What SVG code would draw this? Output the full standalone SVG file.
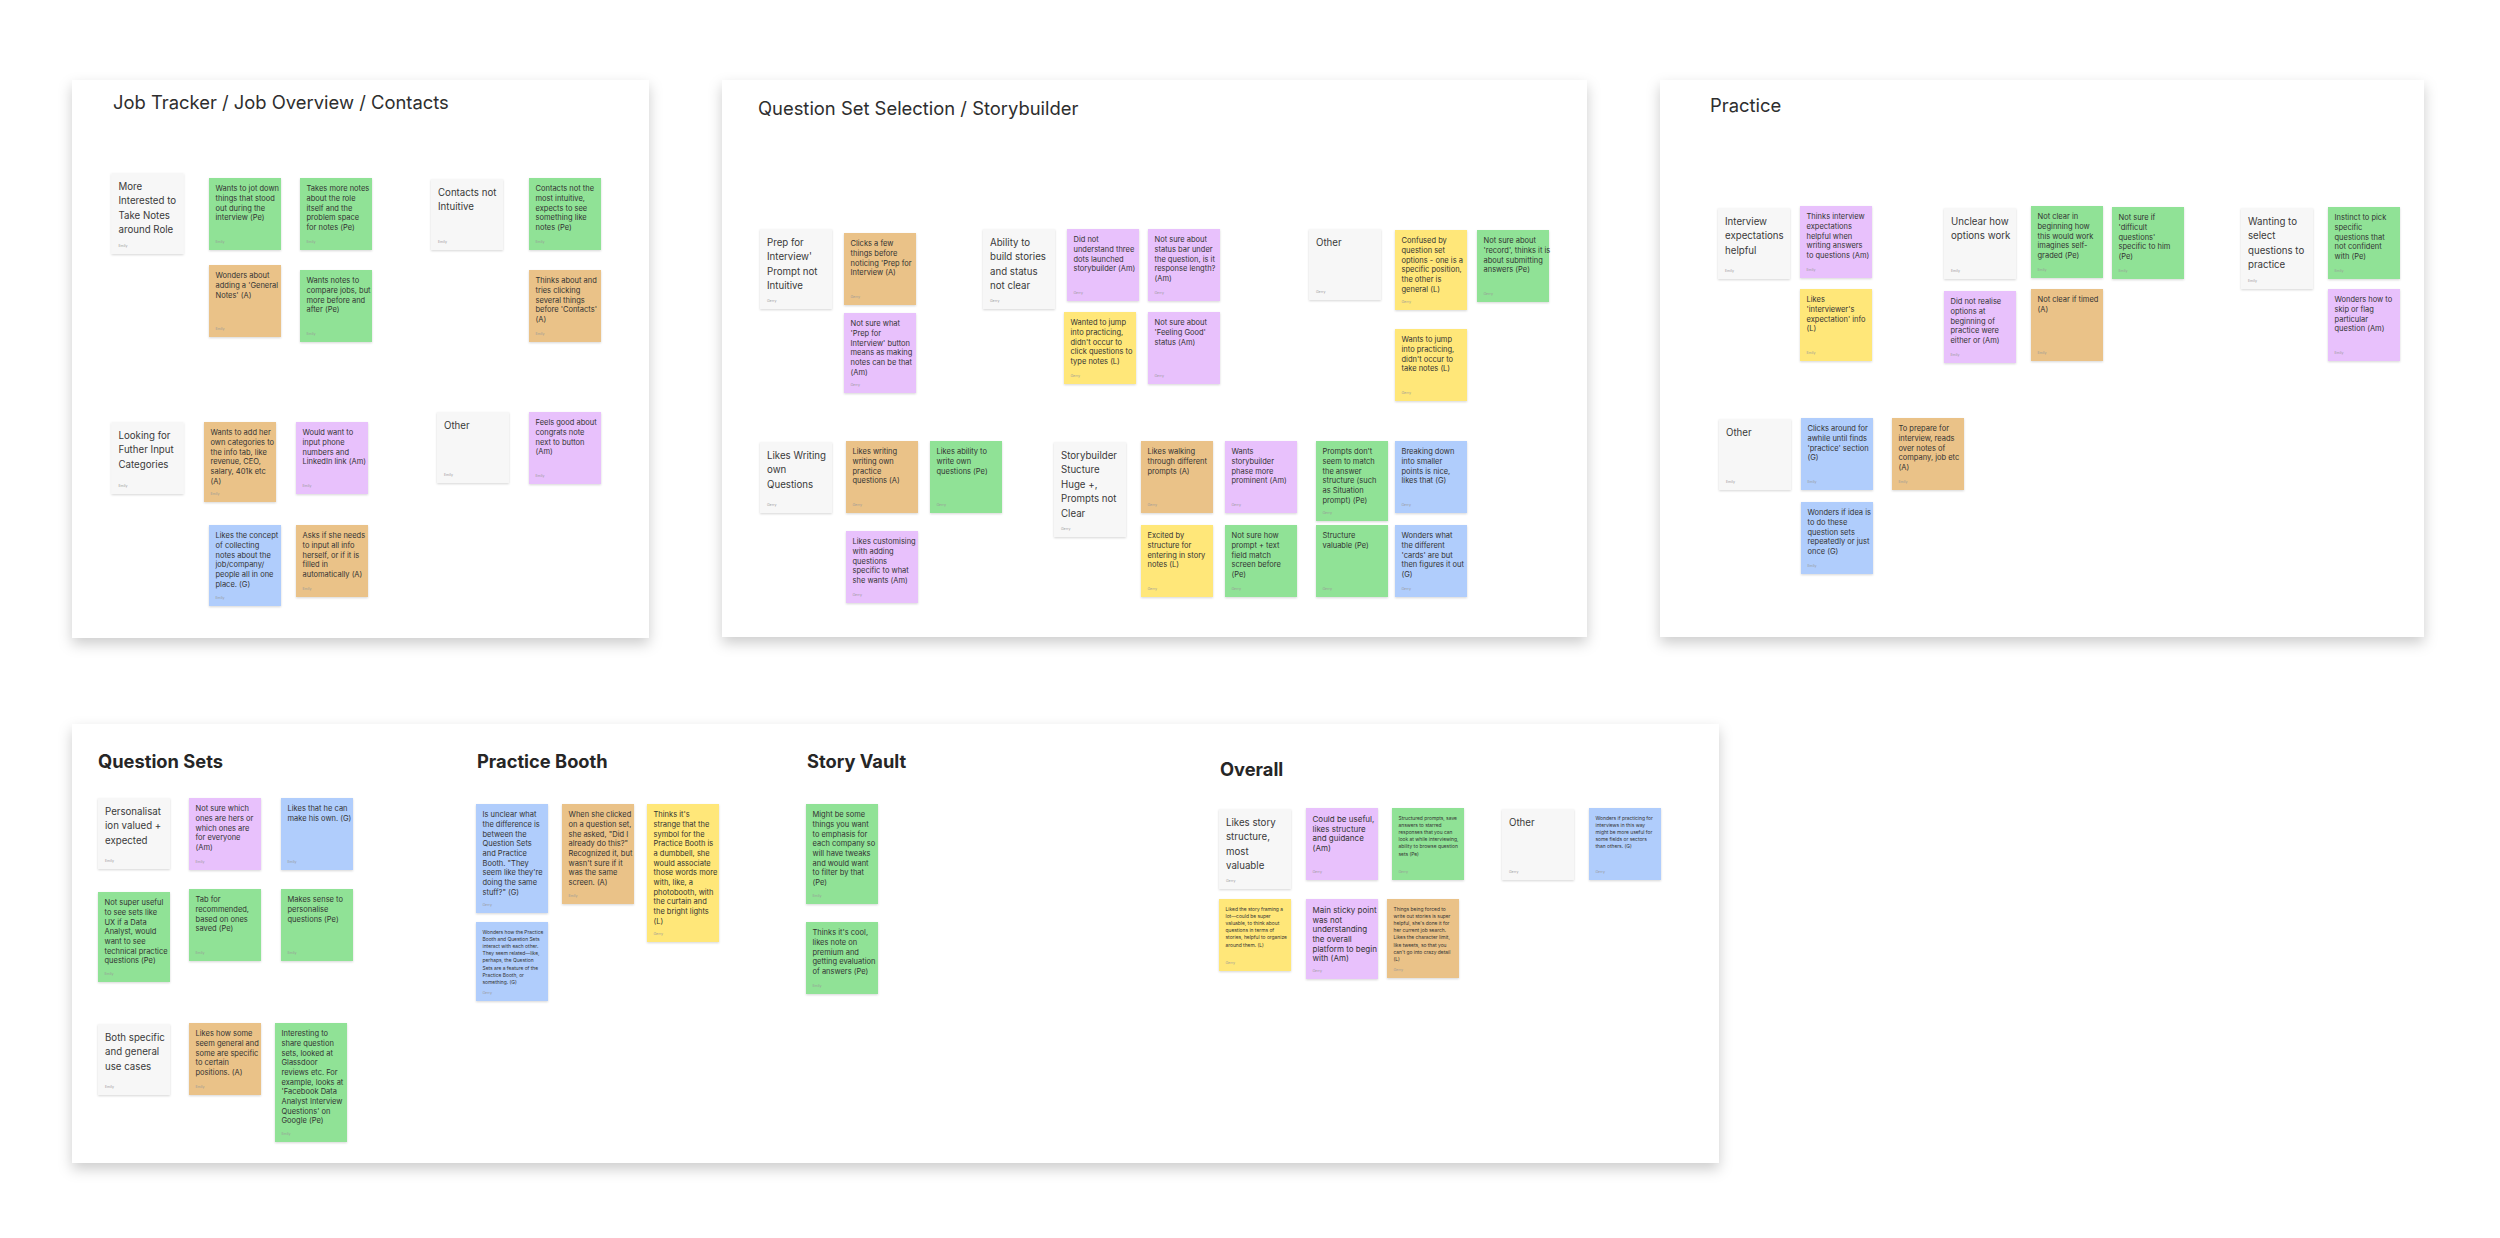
<svg xmlns="http://www.w3.org/2000/svg" width="2500" height="1238" viewBox="0 0 2500 1238">
<defs>
<filter id="ps" x="-10%" y="-10%" width="120%" height="125%"><feDropShadow dx="0" dy="6" stdDeviation="7" flood-color="#000" flood-opacity="0.2"/></filter>
<filter id="ns" x="-10%" y="-10%" width="120%" height="130%"><feDropShadow dx="0" dy="1" stdDeviation="0.8" flood-color="#000" flood-opacity="0.16"/></filter>
</defs>
<style>
text{font-family:Inter,"Noto Sans","Liberation Sans",sans-serif;fill:#333}
.tt{font-size:18.4px;fill:#2e2e2e}
.tb{font-size:18.3px;font-weight:700;fill:#262626}
.h{font-size:9.7px;fill:#3a3a3a}
.n{font-size:7.5px}
.m{font-size:8px}
.s{font-size:4.9px}
.lb{font-size:3.5px;fill:#999}
.pn{fill:#fff;filter:url(#ps)}
.k{filter:url(#ns)}
.hd{fill:#f7f7f7}
.gr{fill:#90e296}
.or{fill:#eac288}
.pu{fill:#e8c1fc}
.bl{fill:#b0cdfc}
.ye{fill:#ffe779}
</style>
<rect width="2500" height="1238" fill="#fff"/>

<g id="panel-job-tracker">
<rect class="pn" x="72" y="80" width="577" height="558"/>
<text class="tt" x="113" y="109">Job Tracker / Job Overview / Contacts</text>
</g>
<g id="jt-h1"><rect class="k hd" x="111.5" y="173" width="72" height="81"/><text class="h" x="118.5" y="190"><tspan x="118.5" dy="0">More</tspan><tspan x="118.5" dy="14.4">Interested to</tspan><tspan x="118.5" dy="14.4">Take Notes</tspan><tspan x="118.5" dy="14.4">around Role</tspan></text><text class="lb" x="118.5" y="247">Emily</text></g>
<g id="jt-n1"><rect class="k gr" x="209" y="178" width="72" height="72"/><text class="n" x="215.5" y="191.3"><tspan x="215.5" dy="0">Wants to jot down</tspan><tspan x="215.5" dy="9.67">things that stood</tspan><tspan x="215.5" dy="9.67">out during the</tspan><tspan x="215.5" dy="9.67">interview (Pe)</tspan></text><text class="lb" x="215.5" y="243.2">Emily</text></g>
<g id="jt-n2"><rect class="k gr" x="300" y="178" width="72" height="72"/><text class="n" x="306.5" y="191.3"><tspan x="306.5" dy="0">Takes more notes</tspan><tspan x="306.5" dy="9.67">about the role</tspan><tspan x="306.5" dy="9.67">itself and the</tspan><tspan x="306.5" dy="9.67">problem space</tspan><tspan x="306.5" dy="9.67">for notes (Pe)</tspan></text><text class="lb" x="306.5" y="243.2">Emily</text></g>
<g id="jt-n3"><rect class="k or" x="209" y="265" width="72" height="72"/><text class="n" x="215.5" y="278.3"><tspan x="215.5" dy="0">Wonders about</tspan><tspan x="215.5" dy="9.67">adding a 'General</tspan><tspan x="215.5" dy="9.67">Notes' (A)</tspan></text><text class="lb" x="215.5" y="330.2">Emily</text></g>
<g id="jt-n4"><rect class="k gr" x="300" y="270" width="72" height="72"/><text class="n" x="306.5" y="283.3"><tspan x="306.5" dy="0">Wants notes to</tspan><tspan x="306.5" dy="9.67">compare jobs, but</tspan><tspan x="306.5" dy="9.67">more before and</tspan><tspan x="306.5" dy="9.67">after (Pe)</tspan></text><text class="lb" x="306.5" y="335.2">Emily</text></g>
<g id="jt-h2"><rect class="k hd" x="431" y="179" width="72" height="71"/><text class="h" x="438" y="196"><tspan x="438" dy="0">Contacts not</tspan><tspan x="438" dy="14.4">Intuitive</tspan></text><text class="lb" x="438" y="243">Emily</text></g>
<g id="jt-n5"><rect class="k gr" x="529" y="178" width="72" height="72"/><text class="n" x="535.5" y="191.3"><tspan x="535.5" dy="0">Contacts not the</tspan><tspan x="535.5" dy="9.67">most intuitive,</tspan><tspan x="535.5" dy="9.67">expects to see</tspan><tspan x="535.5" dy="9.67">something like</tspan><tspan x="535.5" dy="9.67">notes (Pe)</tspan></text><text class="lb" x="535.5" y="243.2">Emily</text></g>
<g id="jt-n6"><rect class="k or" x="529" y="270" width="72" height="72"/><text class="n" x="535.5" y="283.3"><tspan x="535.5" dy="0">Thinks about and</tspan><tspan x="535.5" dy="9.67">tries clicking</tspan><tspan x="535.5" dy="9.67">several things</tspan><tspan x="535.5" dy="9.67">before 'Contacts'</tspan><tspan x="535.5" dy="9.67">(A)</tspan></text><text class="lb" x="535.5" y="335.2">Emily</text></g>
<g id="jt-h3"><rect class="k hd" x="111.5" y="422" width="72" height="72"/><text class="h" x="118.5" y="439"><tspan x="118.5" dy="0">Looking for</tspan><tspan x="118.5" dy="14.4">Futher Input</tspan><tspan x="118.5" dy="14.4">Categories</tspan></text><text class="lb" x="118.5" y="487">Emily</text></g>
<g id="jt-n7"><rect class="k or" x="204" y="422" width="72" height="80"/><text class="n" x="210.5" y="435.3"><tspan x="210.5" dy="0">Wants to add her</tspan><tspan x="210.5" dy="9.67">own categories to</tspan><tspan x="210.5" dy="9.67">the info tab, like</tspan><tspan x="210.5" dy="9.67">revenue, CEO,</tspan><tspan x="210.5" dy="9.67">salary, 401k etc</tspan><tspan x="210.5" dy="9.67">(A)</tspan></text><text class="lb" x="210.5" y="495.2">Emily</text></g>
<g id="jt-n8"><rect class="k pu" x="296" y="422" width="72" height="72"/><text class="n" x="302.5" y="435.3"><tspan x="302.5" dy="0">Would want to</tspan><tspan x="302.5" dy="9.67">input phone</tspan><tspan x="302.5" dy="9.67">numbers and</tspan><tspan x="302.5" dy="9.67">LinkedIn link (Am)</tspan></text><text class="lb" x="302.5" y="487.2">Emily</text></g>
<g id="jt-n9"><rect class="k bl" x="209" y="525" width="72" height="81"/><text class="n" x="215.5" y="538.3"><tspan x="215.5" dy="0">Likes the concept</tspan><tspan x="215.5" dy="9.67">of collecting</tspan><tspan x="215.5" dy="9.67">notes about the</tspan><tspan x="215.5" dy="9.67">job/company/</tspan><tspan x="215.5" dy="9.67">people all in one</tspan><tspan x="215.5" dy="9.67">place. (G)</tspan></text><text class="lb" x="215.5" y="599.2">Emily</text></g>
<g id="jt-n10"><rect class="k or" x="296" y="525" width="72" height="72"/><text class="n" x="302.5" y="538.3"><tspan x="302.5" dy="0">Asks if she needs</tspan><tspan x="302.5" dy="9.67">to input all info</tspan><tspan x="302.5" dy="9.67">herself, or if it is</tspan><tspan x="302.5" dy="9.67">filled in</tspan><tspan x="302.5" dy="9.67">automatically (A)</tspan></text><text class="lb" x="302.5" y="590.2">Emily</text></g>
<g id="jt-h4"><rect class="k hd" x="437" y="412" width="72" height="71"/><text class="h" x="444" y="429">Other</text><text class="lb" x="444" y="476">Emily</text></g>
<g id="jt-n11"><rect class="k pu" x="529" y="412" width="72" height="72"/><text class="n" x="535.5" y="425.3"><tspan x="535.5" dy="0">Feels good about</tspan><tspan x="535.5" dy="9.67">congrats note</tspan><tspan x="535.5" dy="9.67">next to button</tspan><tspan x="535.5" dy="9.67">(Am)</tspan></text><text class="lb" x="535.5" y="477.2">Emily</text></g>

<g id="panel-question-set-selection">
<rect class="pn" x="722" y="80" width="865" height="557"/>
<text class="tt" x="758" y="115">Question Set Selection / Storybuilder</text>
</g>
<g id="qs-h1"><rect class="k hd" x="760" y="229" width="72" height="80"/><text class="h" x="767" y="246"><tspan x="767" dy="0">Prep for</tspan><tspan x="767" dy="14.4">Interview'</tspan><tspan x="767" dy="14.4">Prompt not</tspan><tspan x="767" dy="14.4">Intuitive</tspan></text><text class="lb" x="767" y="302">Gerry</text></g>
<g id="qs-n1"><rect class="k or" x="844" y="233" width="72" height="72"/><text class="n" x="850.5" y="246.3"><tspan x="850.5" dy="0">Clicks a few</tspan><tspan x="850.5" dy="9.67">things before</tspan><tspan x="850.5" dy="9.67">noticing 'Prep for</tspan><tspan x="850.5" dy="9.67">Interview (A)</tspan></text><text class="lb" x="850.5" y="298.2">Gerry</text></g>
<g id="qs-n2"><rect class="k pu" x="844" y="313" width="72" height="80"/><text class="n" x="850.5" y="326.3"><tspan x="850.5" dy="0">Not sure what</tspan><tspan x="850.5" dy="9.67">'Prep for</tspan><tspan x="850.5" dy="9.67">Interview' button</tspan><tspan x="850.5" dy="9.67">means as making</tspan><tspan x="850.5" dy="9.67">notes can be that</tspan><tspan x="850.5" dy="9.67">(Am)</tspan></text><text class="lb" x="850.5" y="386.2">Gerry</text></g>
<g id="qs-h2"><rect class="k hd" x="983" y="229" width="72" height="80"/><text class="h" x="990" y="246"><tspan x="990" dy="0">Ability to</tspan><tspan x="990" dy="14.4">build stories</tspan><tspan x="990" dy="14.4">and status</tspan><tspan x="990" dy="14.4">not clear</tspan></text><text class="lb" x="990" y="302">Gerry</text></g>
<g id="qs-n3"><rect class="k pu" x="1067" y="229" width="72" height="72"/><text class="n" x="1073.5" y="242.3"><tspan x="1073.5" dy="0">Did not</tspan><tspan x="1073.5" dy="9.67">understand three</tspan><tspan x="1073.5" dy="9.67">dots launched</tspan><tspan x="1073.5" dy="9.67">storybuilder (Am)</tspan></text><text class="lb" x="1073.5" y="294.2">Gerry</text></g>
<g id="qs-n4"><rect class="k pu" x="1148" y="229" width="72" height="72"/><text class="n" x="1154.5" y="242.3"><tspan x="1154.5" dy="0">Not sure about</tspan><tspan x="1154.5" dy="9.67">status bar under</tspan><tspan x="1154.5" dy="9.67">the question, is it</tspan><tspan x="1154.5" dy="9.67">response length?</tspan><tspan x="1154.5" dy="9.67">(Am)</tspan></text><text class="lb" x="1154.5" y="294.2">Gerry</text></g>
<g id="qs-n5"><rect class="k ye" x="1064" y="312" width="72" height="72"/><text class="n" x="1070.5" y="325.3"><tspan x="1070.5" dy="0">Wanted to jump</tspan><tspan x="1070.5" dy="9.67">into practicing,</tspan><tspan x="1070.5" dy="9.67">didn't occur to</tspan><tspan x="1070.5" dy="9.67">click questions to</tspan><tspan x="1070.5" dy="9.67">type notes (L)</tspan></text><text class="lb" x="1070.5" y="377.2">Gerry</text></g>
<g id="qs-n6"><rect class="k pu" x="1148" y="312" width="72" height="72"/><text class="n" x="1154.5" y="325.3"><tspan x="1154.5" dy="0">Not sure about</tspan><tspan x="1154.5" dy="9.67">'Feeling Good'</tspan><tspan x="1154.5" dy="9.67">status (Am)</tspan></text><text class="lb" x="1154.5" y="377.2">Gerry</text></g>
<g id="qs-h3"><rect class="k hd" x="1309" y="229" width="72" height="71"/><text class="h" x="1316" y="246">Other</text><text class="lb" x="1316" y="293">Gerry</text></g>
<g id="qs-n7"><rect class="k ye" x="1395" y="230" width="72" height="80"/><text class="n" x="1401.5" y="243.3"><tspan x="1401.5" dy="0">Confused by</tspan><tspan x="1401.5" dy="9.67">question set</tspan><tspan x="1401.5" dy="9.67">options - one is a</tspan><tspan x="1401.5" dy="9.67">specific position,</tspan><tspan x="1401.5" dy="9.67">the other is</tspan><tspan x="1401.5" dy="9.67">general (L)</tspan></text><text class="lb" x="1401.5" y="303.2">Gerry</text></g>
<g id="qs-n8"><rect class="k gr" x="1477" y="230" width="72" height="72"/><text class="n" x="1483.5" y="243.3"><tspan x="1483.5" dy="0">Not sure about</tspan><tspan x="1483.5" dy="9.67">'record', thinks it is</tspan><tspan x="1483.5" dy="9.67">about submitting</tspan><tspan x="1483.5" dy="9.67">answers (Pe)</tspan></text><text class="lb" x="1483.5" y="295.2">Gerry</text></g>
<g id="qs-n9"><rect class="k ye" x="1395" y="329" width="72" height="72"/><text class="n" x="1401.5" y="342.3"><tspan x="1401.5" dy="0">Wants to jump</tspan><tspan x="1401.5" dy="9.67">into practicing,</tspan><tspan x="1401.5" dy="9.67">didn't occur to</tspan><tspan x="1401.5" dy="9.67">take notes (L)</tspan></text><text class="lb" x="1401.5" y="394.2">Gerry</text></g>
<g id="qs-h4"><rect class="k hd" x="760" y="442" width="72" height="71"/><text class="h" x="767" y="459"><tspan x="767" dy="0">Likes Writing</tspan><tspan x="767" dy="14.4">own</tspan><tspan x="767" dy="14.4">Questions</tspan></text><text class="lb" x="767" y="506">Gerry</text></g>
<g id="qs-n10"><rect class="k or" x="846" y="441" width="72" height="72"/><text class="n" x="852.5" y="454.3"><tspan x="852.5" dy="0">Likes writing</tspan><tspan x="852.5" dy="9.67">writing own</tspan><tspan x="852.5" dy="9.67">practice</tspan><tspan x="852.5" dy="9.67">questions (A)</tspan></text><text class="lb" x="852.5" y="506.2">Gerry</text></g>
<g id="qs-n11"><rect class="k gr" x="930" y="441" width="72" height="72"/><text class="n" x="936.5" y="454.3"><tspan x="936.5" dy="0">Likes ability to</tspan><tspan x="936.5" dy="9.67">write own</tspan><tspan x="936.5" dy="9.67">questions (Pe)</tspan></text><text class="lb" x="936.5" y="506.2">Gerry</text></g>
<g id="qs-n12"><rect class="k pu" x="846" y="531" width="72" height="72"/><text class="n" x="852.5" y="544.3"><tspan x="852.5" dy="0">Likes customising</tspan><tspan x="852.5" dy="9.67">with adding</tspan><tspan x="852.5" dy="9.67">questions</tspan><tspan x="852.5" dy="9.67">specific to what</tspan><tspan x="852.5" dy="9.67">she wants (Am)</tspan></text><text class="lb" x="852.5" y="596.2">Gerry</text></g>
<g id="qs-h5"><rect class="k hd" x="1054" y="442" width="72" height="95"/><text class="h" x="1061" y="459"><tspan x="1061" dy="0">Storybuilder</tspan><tspan x="1061" dy="14.4">Stucture</tspan><tspan x="1061" dy="14.4">Huge +,</tspan><tspan x="1061" dy="14.4">Prompts not</tspan><tspan x="1061" dy="14.4">Clear</tspan></text><text class="lb" x="1061" y="530">Gerry</text></g>
<g id="qs-n13"><rect class="k or" x="1141" y="441" width="72" height="72"/><text class="n" x="1147.5" y="454.3"><tspan x="1147.5" dy="0">Likes walking</tspan><tspan x="1147.5" dy="9.67">through different</tspan><tspan x="1147.5" dy="9.67">prompts (A)</tspan></text><text class="lb" x="1147.5" y="506.2">Gerry</text></g>
<g id="qs-n14"><rect class="k ye" x="1141" y="525" width="72" height="72"/><text class="n" x="1147.5" y="538.3"><tspan x="1147.5" dy="0">Excited by</tspan><tspan x="1147.5" dy="9.67">structure for</tspan><tspan x="1147.5" dy="9.67">entering in story</tspan><tspan x="1147.5" dy="9.67">notes (L)</tspan></text><text class="lb" x="1147.5" y="590.2">Gerry</text></g>
<g id="qs-n15"><rect class="k pu" x="1225" y="441" width="72" height="72"/><text class="n" x="1231.5" y="454.3"><tspan x="1231.5" dy="0">Wants</tspan><tspan x="1231.5" dy="9.67">storybuilder</tspan><tspan x="1231.5" dy="9.67">phase more</tspan><tspan x="1231.5" dy="9.67">prominent (Am)</tspan></text><text class="lb" x="1231.5" y="506.2">Gerry</text></g>
<g id="qs-n16"><rect class="k gr" x="1225" y="525" width="72" height="72"/><text class="n" x="1231.5" y="538.3"><tspan x="1231.5" dy="0">Not sure how</tspan><tspan x="1231.5" dy="9.67">prompt + text</tspan><tspan x="1231.5" dy="9.67">field match</tspan><tspan x="1231.5" dy="9.67">screen before</tspan><tspan x="1231.5" dy="9.67">(Pe)</tspan></text><text class="lb" x="1231.5" y="590.2">Gerry</text></g>
<g id="qs-n17"><rect class="k gr" x="1316" y="441" width="72" height="80"/><text class="n" x="1322.5" y="454.3"><tspan x="1322.5" dy="0">Prompts don't</tspan><tspan x="1322.5" dy="9.67">seem to match</tspan><tspan x="1322.5" dy="9.67">the answer</tspan><tspan x="1322.5" dy="9.67">structure (such</tspan><tspan x="1322.5" dy="9.67">as Situation</tspan><tspan x="1322.5" dy="9.67">prompt) (Pe)</tspan></text><text class="lb" x="1322.5" y="514.2">Gerry</text></g>
<g id="qs-n18"><rect class="k gr" x="1316" y="525" width="72" height="72"/><text class="n" x="1322.5" y="538.3"><tspan x="1322.5" dy="0">Structure</tspan><tspan x="1322.5" dy="9.67">valuable (Pe)</tspan></text><text class="lb" x="1322.5" y="590.2">Gerry</text></g>
<g id="qs-n19"><rect class="k bl" x="1395" y="441" width="72" height="72"/><text class="n" x="1401.5" y="454.3"><tspan x="1401.5" dy="0">Breaking down</tspan><tspan x="1401.5" dy="9.67">into smaller</tspan><tspan x="1401.5" dy="9.67">points is nice,</tspan><tspan x="1401.5" dy="9.67">likes that (G)</tspan></text><text class="lb" x="1401.5" y="506.2">Gerry</text></g>
<g id="qs-n20"><rect class="k bl" x="1395" y="525" width="72" height="72"/><text class="n" x="1401.5" y="538.3"><tspan x="1401.5" dy="0">Wonders what</tspan><tspan x="1401.5" dy="9.67">the different</tspan><tspan x="1401.5" dy="9.67">'cards' are but</tspan><tspan x="1401.5" dy="9.67">then figures it out</tspan><tspan x="1401.5" dy="9.67">(G)</tspan></text><text class="lb" x="1401.5" y="590.2">Gerry</text></g>

<g id="panel-practice">
<rect class="pn" x="1660" y="80" width="764" height="557"/>
<text class="tt" x="1710" y="111.7">Practice</text>
</g>
<g id="pr-h1"><rect class="k hd" x="1718" y="208" width="72" height="71"/><text class="h" x="1725" y="225"><tspan x="1725" dy="0">Interview</tspan><tspan x="1725" dy="14.4">expectations</tspan><tspan x="1725" dy="14.4">helpful</tspan></text><text class="lb" x="1725" y="272">Emily</text></g>
<g id="pr-n1"><rect class="k pu" x="1800" y="206" width="72" height="72"/><text class="n" x="1806.5" y="219.3"><tspan x="1806.5" dy="0">Thinks interview</tspan><tspan x="1806.5" dy="9.67">expectations</tspan><tspan x="1806.5" dy="9.67">helpful when</tspan><tspan x="1806.5" dy="9.67">writing answers</tspan><tspan x="1806.5" dy="9.67">to questions (Am)</tspan></text><text class="lb" x="1806.5" y="271.2">Emily</text></g>
<g id="pr-n2"><rect class="k ye" x="1800" y="289" width="72" height="72"/><text class="n" x="1806.5" y="302.3"><tspan x="1806.5" dy="0">Likes</tspan><tspan x="1806.5" dy="9.67">'interviewer's</tspan><tspan x="1806.5" dy="9.67">expectation' info</tspan><tspan x="1806.5" dy="9.67">(L)</tspan></text><text class="lb" x="1806.5" y="354.2">Emily</text></g>
<g id="pr-h2"><rect class="k hd" x="1944" y="208" width="72" height="71"/><text class="h" x="1951" y="225"><tspan x="1951" dy="0">Unclear how</tspan><tspan x="1951" dy="14.4">options work</tspan></text><text class="lb" x="1951" y="272">Emily</text></g>
<g id="pr-n3"><rect class="k gr" x="2031" y="206" width="72" height="72"/><text class="n" x="2037.5" y="219.3"><tspan x="2037.5" dy="0">Not clear in</tspan><tspan x="2037.5" dy="9.67">beginning how</tspan><tspan x="2037.5" dy="9.67">this would work</tspan><tspan x="2037.5" dy="9.67">imagines self-</tspan><tspan x="2037.5" dy="9.67">graded (Pe)</tspan></text><text class="lb" x="2037.5" y="271.2">Emily</text></g>
<g id="pr-n4"><rect class="k gr" x="2112" y="207" width="72" height="72"/><text class="n" x="2118.5" y="220.3"><tspan x="2118.5" dy="0">Not sure if</tspan><tspan x="2118.5" dy="9.67">'difficult</tspan><tspan x="2118.5" dy="9.67">questions'</tspan><tspan x="2118.5" dy="9.67">specific to him</tspan><tspan x="2118.5" dy="9.67">(Pe)</tspan></text><text class="lb" x="2118.5" y="272.2">Emily</text></g>
<g id="pr-n5"><rect class="k pu" x="1944" y="291" width="72" height="72"/><text class="n" x="1950.5" y="304.3"><tspan x="1950.5" dy="0">Did not realise</tspan><tspan x="1950.5" dy="9.67">options at</tspan><tspan x="1950.5" dy="9.67">beginning of</tspan><tspan x="1950.5" dy="9.67">practice were</tspan><tspan x="1950.5" dy="9.67">either or (Am)</tspan></text><text class="lb" x="1950.5" y="356.2">Emily</text></g>
<g id="pr-n6"><rect class="k or" x="2031" y="289" width="72" height="72"/><text class="n" x="2037.5" y="302.3"><tspan x="2037.5" dy="0">Not clear if timed</tspan><tspan x="2037.5" dy="9.67">(A)</tspan></text><text class="lb" x="2037.5" y="354.2">Emily</text></g>
<g id="pr-h3"><rect class="k hd" x="2241" y="208" width="72" height="81"/><text class="h" x="2248" y="225"><tspan x="2248" dy="0">Wanting to</tspan><tspan x="2248" dy="14.4">select</tspan><tspan x="2248" dy="14.4">questions to</tspan><tspan x="2248" dy="14.4">practice</tspan></text><text class="lb" x="2248" y="282">Emily</text></g>
<g id="pr-n7"><rect class="k gr" x="2328" y="207" width="72" height="72"/><text class="n" x="2334.5" y="220.3"><tspan x="2334.5" dy="0">Instinct to pick</tspan><tspan x="2334.5" dy="9.67">specific</tspan><tspan x="2334.5" dy="9.67">questions that</tspan><tspan x="2334.5" dy="9.67">not confident</tspan><tspan x="2334.5" dy="9.67">with (Pe)</tspan></text><text class="lb" x="2334.5" y="272.2">Emily</text></g>
<g id="pr-n8"><rect class="k pu" x="2328" y="289" width="72" height="72"/><text class="n" x="2334.5" y="302.3"><tspan x="2334.5" dy="0">Wonders how to</tspan><tspan x="2334.5" dy="9.67">skip or flag</tspan><tspan x="2334.5" dy="9.67">particular</tspan><tspan x="2334.5" dy="9.67">question (Am)</tspan></text><text class="lb" x="2334.5" y="354.2">Emily</text></g>
<g id="pr-h4"><rect class="k hd" x="1719" y="419" width="72" height="71"/><text class="h" x="1726" y="436">Other</text><text class="lb" x="1726" y="483">Emily</text></g>
<g id="pr-n9"><rect class="k bl" x="1801" y="418" width="72" height="72"/><text class="n" x="1807.5" y="431.3"><tspan x="1807.5" dy="0">Clicks around for</tspan><tspan x="1807.5" dy="9.67">awhile until finds</tspan><tspan x="1807.5" dy="9.67">'practice' section</tspan><tspan x="1807.5" dy="9.67">(G)</tspan></text><text class="lb" x="1807.5" y="483.2">Emily</text></g>
<g id="pr-n10"><rect class="k bl" x="1801" y="502" width="72" height="72"/><text class="n" x="1807.5" y="515.3"><tspan x="1807.5" dy="0">Wonders if idea is</tspan><tspan x="1807.5" dy="9.67">to do these</tspan><tspan x="1807.5" dy="9.67">question sets</tspan><tspan x="1807.5" dy="9.67">repeatedly or just</tspan><tspan x="1807.5" dy="9.67">once (G)</tspan></text><text class="lb" x="1807.5" y="567.2">Emily</text></g>
<g id="pr-n11"><rect class="k or" x="1892" y="418" width="72" height="72"/><text class="n" x="1898.5" y="431.3"><tspan x="1898.5" dy="0">To prepare for</tspan><tspan x="1898.5" dy="9.67">interview, reads</tspan><tspan x="1898.5" dy="9.67">over notes of</tspan><tspan x="1898.5" dy="9.67">company, job etc</tspan><tspan x="1898.5" dy="9.67">(A)</tspan></text><text class="lb" x="1898.5" y="483.2">Emily</text></g>

<g id="panel-bottom">
<rect class="pn" x="72" y="724" width="1647" height="439"/>
<text class="tb" x="98" y="768">Question Sets</text>
<text class="tb" x="477" y="768">Practice Booth</text>
<text class="tb" x="807" y="768">Story Vault</text>
<text class="tb" x="1220" y="776">Overall</text>
</g>
<g id="qz-h1"><rect class="k hd" x="98" y="798" width="72" height="71"/><text class="h" x="105" y="815"><tspan x="105" dy="0">Personalisat</tspan><tspan x="105" dy="14.4">ion valued +</tspan><tspan x="105" dy="14.4">expected</tspan></text><text class="lb" x="105" y="862">Emily</text></g>
<g id="qz-n1"><rect class="k pu" x="189" y="798" width="72" height="72"/><text class="n" x="195.5" y="811.3"><tspan x="195.5" dy="0">Not sure which</tspan><tspan x="195.5" dy="9.67">ones are hers or</tspan><tspan x="195.5" dy="9.67">which ones are</tspan><tspan x="195.5" dy="9.67">for everyone</tspan><tspan x="195.5" dy="9.67">(Am)</tspan></text><text class="lb" x="195.5" y="863.2">Emily</text></g>
<g id="qz-n2"><rect class="k bl" x="281" y="798" width="72" height="72"/><text class="n" x="287.5" y="811.3"><tspan x="287.5" dy="0">Likes that he can</tspan><tspan x="287.5" dy="9.67">make his own. (G)</tspan></text><text class="lb" x="287.5" y="863.2">Emily</text></g>
<g id="qz-n3"><rect class="k gr" x="98" y="892" width="72" height="90"/><text class="n" x="104.5" y="905.3"><tspan x="104.5" dy="0">Not super useful</tspan><tspan x="104.5" dy="9.67">to see sets like</tspan><tspan x="104.5" dy="9.67">UX if a Data</tspan><tspan x="104.5" dy="9.67">Analyst, would</tspan><tspan x="104.5" dy="9.67">want to see</tspan><tspan x="104.5" dy="9.67">technical practice</tspan><tspan x="104.5" dy="9.67">questions (Pe)</tspan></text><text class="lb" x="104.5" y="975.2">Emily</text></g>
<g id="qz-n4"><rect class="k gr" x="189" y="889" width="72" height="72"/><text class="n" x="195.5" y="902.3"><tspan x="195.5" dy="0">Tab for</tspan><tspan x="195.5" dy="9.67">recommended,</tspan><tspan x="195.5" dy="9.67">based on ones</tspan><tspan x="195.5" dy="9.67">saved (Pe)</tspan></text><text class="lb" x="195.5" y="954.2">Emily</text></g>
<g id="qz-n5"><rect class="k gr" x="281" y="889" width="72" height="72"/><text class="n" x="287.5" y="902.3"><tspan x="287.5" dy="0">Makes sense to</tspan><tspan x="287.5" dy="9.67">personalise</tspan><tspan x="287.5" dy="9.67">questions (Pe)</tspan></text><text class="lb" x="287.5" y="954.2">Emily</text></g>
<g id="qz-h2"><rect class="k hd" x="98" y="1024" width="72" height="71"/><text class="h" x="105" y="1041"><tspan x="105" dy="0">Both specific</tspan><tspan x="105" dy="14.4">and general</tspan><tspan x="105" dy="14.4">use cases</tspan></text><text class="lb" x="105" y="1088">Emily</text></g>
<g id="qz-n6"><rect class="k or" x="189" y="1023" width="72" height="72"/><text class="n" x="195.5" y="1036.3"><tspan x="195.5" dy="0">Likes how some</tspan><tspan x="195.5" dy="9.67">seem general and</tspan><tspan x="195.5" dy="9.67">some are specific</tspan><tspan x="195.5" dy="9.67">to certain</tspan><tspan x="195.5" dy="9.67">positions. (A)</tspan></text><text class="lb" x="195.5" y="1088.2">Emily</text></g>
<g id="qz-n7"><rect class="k gr" x="275" y="1023" width="72" height="119"/><text class="n" x="281.5" y="1036.3"><tspan x="281.5" dy="0">Interesting to</tspan><tspan x="281.5" dy="9.67">share question</tspan><tspan x="281.5" dy="9.67">sets, looked at</tspan><tspan x="281.5" dy="9.67">Glassdoor</tspan><tspan x="281.5" dy="9.67">reviews etc. For</tspan><tspan x="281.5" dy="9.67">example, looks at</tspan><tspan x="281.5" dy="9.67">'Facebook Data</tspan><tspan x="281.5" dy="9.67">Analyst Interview</tspan><tspan x="281.5" dy="9.67">Questions' on</tspan><tspan x="281.5" dy="9.67">Google (Pe)</tspan></text><text class="lb" x="281.5" y="1135.2">Emily</text></g>

<g id="pb-n1"><rect class="k bl" x="476" y="804" width="72" height="109"/><text class="n" x="482.5" y="817.3"><tspan x="482.5" dy="0">Is unclear what</tspan><tspan x="482.5" dy="9.67">the difference is</tspan><tspan x="482.5" dy="9.67">between the</tspan><tspan x="482.5" dy="9.67">Question Sets</tspan><tspan x="482.5" dy="9.67">and Practice</tspan><tspan x="482.5" dy="9.67">Booth. "They</tspan><tspan x="482.5" dy="9.67">seem like they're</tspan><tspan x="482.5" dy="9.67">doing the same</tspan><tspan x="482.5" dy="9.67">stuff?" (G)</tspan></text><text class="lb" x="482.5" y="906.2">Gerry</text></g>
<g id="pb-n2"><rect class="k bl" x="476" y="922" width="72" height="79"/><text class="s" x="482.5" y="933.5"><tspan x="482.5" dy="0">Wonders how the Practice</tspan><tspan x="482.5" dy="7.2">Booth and Question Sets</tspan><tspan x="482.5" dy="7.2">interact with each other.</tspan><tspan x="482.5" dy="7.2">They seem related—like,</tspan><tspan x="482.5" dy="7.2">perhaps, the Question</tspan><tspan x="482.5" dy="7.2">Sets are a feature of the</tspan><tspan x="482.5" dy="7.2">Practice Booth, or</tspan><tspan x="482.5" dy="7.2">something. (G)</tspan></text><text class="lb" x="482.5" y="994.2">Gerry</text></g>
<g id="pb-n3"><rect class="k or" x="562" y="804" width="72" height="100"/><text class="n" x="568.5" y="817.3"><tspan x="568.5" dy="0">When she clicked</tspan><tspan x="568.5" dy="9.67">on a question set,</tspan><tspan x="568.5" dy="9.67">she asked, "Did I</tspan><tspan x="568.5" dy="9.67">already do this?"</tspan><tspan x="568.5" dy="9.67">Recognized it, but</tspan><tspan x="568.5" dy="9.67">wasn't sure if it</tspan><tspan x="568.5" dy="9.67">was the same</tspan><tspan x="568.5" dy="9.67">screen. (A)</tspan></text><text class="lb" x="568.5" y="897.2">Emily</text></g>
<g id="pb-n4"><rect class="k ye" x="647" y="804" width="72" height="138"/><text class="n" x="653.5" y="817.3"><tspan x="653.5" dy="0">Thinks it's</tspan><tspan x="653.5" dy="9.67">strange that the</tspan><tspan x="653.5" dy="9.67">symbol for the</tspan><tspan x="653.5" dy="9.67">Practice Booth is</tspan><tspan x="653.5" dy="9.67">a dumbbell, she</tspan><tspan x="653.5" dy="9.67">would associate</tspan><tspan x="653.5" dy="9.67">those words more</tspan><tspan x="653.5" dy="9.67">with, like, a</tspan><tspan x="653.5" dy="9.67">photobooth, with</tspan><tspan x="653.5" dy="9.67">the curtain and</tspan><tspan x="653.5" dy="9.67">the bright lights</tspan><tspan x="653.5" dy="9.67">(L)</tspan></text><text class="lb" x="653.5" y="935.2">Gerry</text></g>
<g id="sv-n1"><rect class="k gr" x="806" y="804" width="72" height="100"/><text class="n" x="812.5" y="817.3"><tspan x="812.5" dy="0">Might be some</tspan><tspan x="812.5" dy="9.67">things you want</tspan><tspan x="812.5" dy="9.67">to emphasis for</tspan><tspan x="812.5" dy="9.67">each company so</tspan><tspan x="812.5" dy="9.67">will have tweaks</tspan><tspan x="812.5" dy="9.67">and would want</tspan><tspan x="812.5" dy="9.67">to filter by that</tspan><tspan x="812.5" dy="9.67">(Pe)</tspan></text><text class="lb" x="812.5" y="897.2">Emily</text></g>
<g id="sv-n2"><rect class="k gr" x="806" y="922" width="72" height="72"/><text class="n" x="812.5" y="935.3"><tspan x="812.5" dy="0">Thinks it's cool,</tspan><tspan x="812.5" dy="9.67">likes note on</tspan><tspan x="812.5" dy="9.67">premium and</tspan><tspan x="812.5" dy="9.67">getting evaluation</tspan><tspan x="812.5" dy="9.67">of answers (Pe)</tspan></text><text class="lb" x="812.5" y="987.2">Emily</text></g>

<g id="ov-h1"><rect class="k hd" x="1219" y="809" width="72" height="80"/><text class="h" x="1226" y="826"><tspan x="1226" dy="0">Likes story</tspan><tspan x="1226" dy="14.4">structure,</tspan><tspan x="1226" dy="14.4">most</tspan><tspan x="1226" dy="14.4">valuable</tspan></text><text class="lb" x="1226" y="882">Gerry</text></g>
<g id="ov-n1"><rect class="k pu" x="1306" y="808" width="72" height="72"/><text class="m" x="1312.5" y="822"><tspan x="1312.5" dy="0">Could be useful,</tspan><tspan x="1312.5" dy="9.67">likes structure</tspan><tspan x="1312.5" dy="9.67">and guidance</tspan><tspan x="1312.5" dy="9.67">(Am)</tspan></text><text class="lb" x="1312.5" y="873.2">Gerry</text></g>
<g id="ov-n2"><rect class="k gr" x="1392" y="808" width="72" height="72"/><text class="s" x="1398.5" y="819.5"><tspan x="1398.5" dy="0">Structured prompts, save</tspan><tspan x="1398.5" dy="7.2">answers to starred</tspan><tspan x="1398.5" dy="7.2">responses that you can</tspan><tspan x="1398.5" dy="7.2">look at while interviewing,</tspan><tspan x="1398.5" dy="7.2">ability to browse question</tspan><tspan x="1398.5" dy="7.2">sets (Pe)</tspan></text><text class="lb" x="1398.5" y="873.2">Gerry</text></g>
<g id="ov-h2"><rect class="k hd" x="1502" y="809" width="72" height="71"/><text class="h" x="1509" y="826">Other</text><text class="lb" x="1509" y="873">Gerry</text></g>
<g id="ov-n3"><rect class="k bl" x="1589" y="808" width="72" height="72"/><text class="s" x="1595.5" y="819.5"><tspan x="1595.5" dy="0">Wonders if practicing for</tspan><tspan x="1595.5" dy="7.2">interviews in this way</tspan><tspan x="1595.5" dy="7.2">might be more useful for</tspan><tspan x="1595.5" dy="7.2">some fields or sectors</tspan><tspan x="1595.5" dy="7.2">than others. (G)</tspan></text><text class="lb" x="1595.5" y="873.2">Gerry</text></g>
<g id="ov-n4"><rect class="k ye" x="1219" y="899" width="72" height="72"/><text class="s" x="1225.5" y="910.5"><tspan x="1225.5" dy="0">Liked the story framing a</tspan><tspan x="1225.5" dy="7.2">lot—could be super</tspan><tspan x="1225.5" dy="7.2">valuable, to think about</tspan><tspan x="1225.5" dy="7.2">questions in terms of</tspan><tspan x="1225.5" dy="7.2">stories, helpful to organize</tspan><tspan x="1225.5" dy="7.2">around them.  (L)</tspan></text><text class="lb" x="1225.5" y="964.2">Gerry</text></g>
<g id="ov-n5"><rect class="k pu" x="1306" y="899" width="72" height="80"/><text class="m" x="1312.5" y="913"><tspan x="1312.5" dy="0">Main sticky point</tspan><tspan x="1312.5" dy="9.67">was not</tspan><tspan x="1312.5" dy="9.67">understanding</tspan><tspan x="1312.5" dy="9.67">the overall</tspan><tspan x="1312.5" dy="9.67">platform to begin</tspan><tspan x="1312.5" dy="9.67">with (Am)</tspan></text><text class="lb" x="1312.5" y="972.2">Gerry</text></g>
<g id="ov-n6"><rect class="k or" x="1387" y="899" width="72" height="79"/><text class="s" x="1393.5" y="910.5"><tspan x="1393.5" dy="0">Things being forced to</tspan><tspan x="1393.5" dy="7.2">write out stories is super</tspan><tspan x="1393.5" dy="7.2">helpful, she's done it for</tspan><tspan x="1393.5" dy="7.2">her current job search.</tspan><tspan x="1393.5" dy="7.2">Likes the character limit,</tspan><tspan x="1393.5" dy="7.2">like tweets, so that you</tspan><tspan x="1393.5" dy="7.2">can't go into crazy detail</tspan><tspan x="1393.5" dy="7.2">(L)</tspan></text><text class="lb" x="1393.5" y="971.2">Gerry</text></g>
</svg>
